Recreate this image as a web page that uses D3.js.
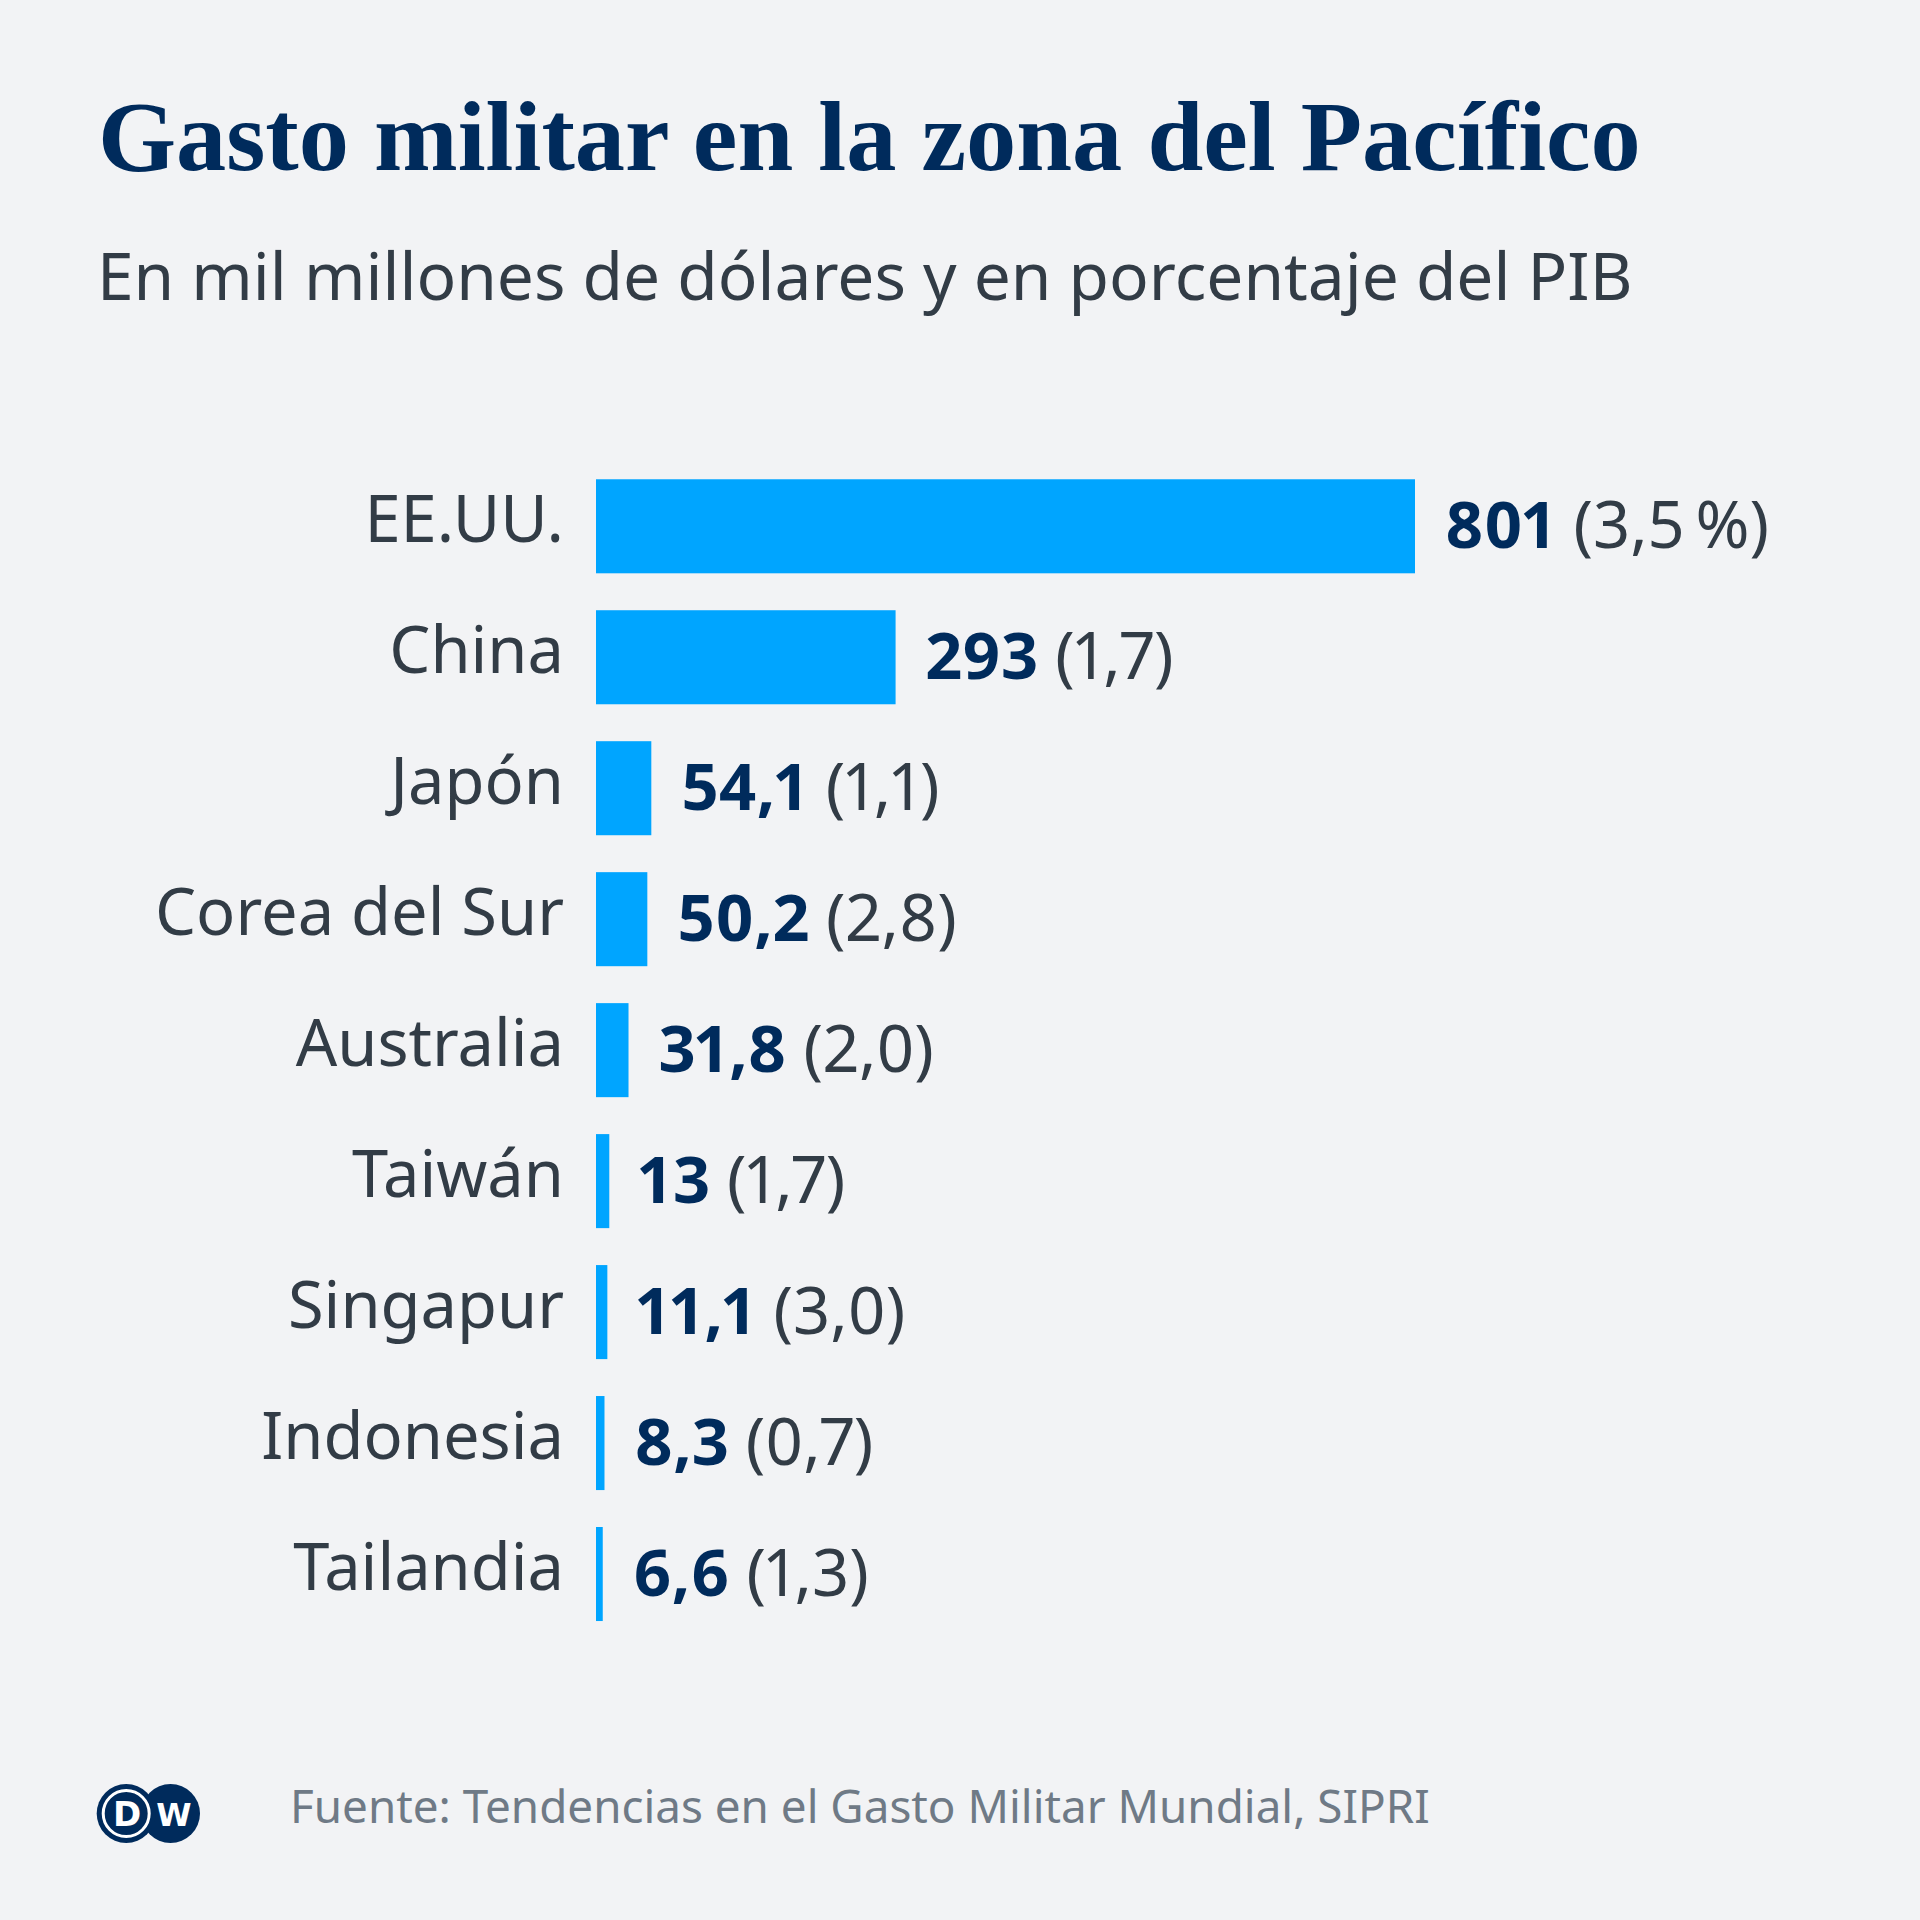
<!DOCTYPE html>
<html>
<head>
<meta charset="utf-8">
<script src="https://cdn.jsdelivr.net/npm/d3@7"></script>
<style>
  html, body { margin: 0; padding: 0; background: #f2f3f5; }
  svg { display: block; }
</style>
</head>
<body>
<script>
const categories = ["EE.UU.", "China", "Japón", "Corea del Sur", "Australia", "Taiwán", "Singapur", "Indonesia", "Tailandia"];
const spending = [801, 293, 54.1, 50.2, 31.8, 13, 11.1, 8.3, 6.6];
const spendingLabels = ["801", "293", "54,1", "50,2", "31,8", "13", "11,1", "8,3", "6,6"];
const gdpLabels = ["(3,5\u202F%)", "(1,7)", "(1,1)", "(2,8)", "(2,0)", "(1,7)", "(3,0)", "(0,7)", "(1,3)"];

const titleText = "Gasto militar en la zona del Pacífico";
const subtitleText = "En mil millones de dólares y en porcentaje del PIB";
const sourceText = "Fuente: Tendencias en el Gasto Militar Mundial, SIPRI";

const W = 1920, H = 1920;
const navy = "#002b5c", slate = "#323c46", barColor = "#00a5ff", grey = "#6f7a86";

const svg = d3.select("body").append("svg").attr("width", W).attr("height", H);
svg.append("rect").attr("width", W).attr("height", H).attr("fill", "#f2f3f5");

// Title
const title = svg.append("text")
  .attr("x", 98).attr("y", 170)
  .attr("font-family", "Liberation Serif, serif")
  .attr("font-weight", "bold")
  .attr("font-size", 92)
  .attr("fill", navy)
  .text(titleText);
const tw = title.node().getComputedTextLength();
title.attr("font-size", 92 * 1543 / tw);

// Subtitle
svg.append("text")
  .attr("x", 97).attr("y", 300)
  .attr("font-family", "Noto Sans, sans-serif")
  .attr("font-size", 65.8)
  .attr("fill", slate)
  .text(subtitleText);

// Scales
const x = d3.scaleLinear().domain([0, 801]).range([596, 1415]);
const y = d3.scaleBand().domain(categories).range([479.3 - 18.5, 1621 + 18.5]).paddingInner(0.282).paddingOuter(0.141);

const data = categories.map((c, i) => ({c, v: spending[i], vl: spendingLabels[i], g: gdpLabels[i]}));

svg.append("g").selectAll("rect").data(data).join("rect")
  .attr("x", x(0))
  .attr("y", d => y(d.c))
  .attr("width", d => Math.max(0, x(d.v) - x(0)))
  .attr("height", y.bandwidth())
  .attr("fill", barColor);

// Category labels
svg.append("g").selectAll("text").data(data).join("text")
  .attr("x", 564)
  .attr("y", d => y(d.c) + y.bandwidth() / 2 + 15.5)
  .attr("text-anchor", "end")
  .attr("font-family", "Noto Sans, sans-serif")
  .attr("font-size", 65)
  .attr("fill", slate)
  .text(d => d.c);

// Value labels
const vl = svg.append("g").selectAll("text").data(data).join("text")
  .attr("x", d => x(d.v) + 30)
  .attr("y", d => y(d.c) + y.bandwidth() / 2 + 22)
  .attr("font-family", "Noto Sans, sans-serif")
  .attr("font-size", 65)
  .style("font-variant-numeric", "proportional-nums");
vl.append("tspan").attr("font-weight", "bold").attr("fill", navy).text(d => d.vl);
vl.append("tspan").attr("fill", slate).text(d => " " + d.g);

// DW logo
const logo = svg.append("g");
logo.append("circle").attr("cx", 170.5).attr("cy", 1813.5).attr("r", 29.5).attr("fill", navy);
logo.append("circle").attr("cx", 126.2).attr("cy", 1813.5).attr("r", 29.5).attr("fill", navy);
logo.append("circle").attr("cx", 126.2).attr("cy", 1813.5).attr("r", 23).attr("fill", "none").attr("stroke", "#ffffff").attr("stroke-width", 3);
logo.append("text").attr("x", 127).attr("y", 1826).attr("text-anchor", "middle")
  .attr("font-family", "DejaVu Sans, sans-serif").attr("font-weight", "bold").attr("font-size", 34).attr("fill", "#ffffff").text("D");
logo.append("text").attr("x", 174).attr("y", 1826).attr("text-anchor", "middle")
  .attr("font-family", "DejaVu Sans, sans-serif").attr("font-weight", "bold").attr("font-size", 32).attr("fill", "#ffffff").text("W");

// Source
svg.append("text")
  .attr("x", 290).attr("y", 1823)
  .attr("font-family", "Noto Sans, sans-serif")
  .attr("font-size", 45.8)
  .attr("fill", grey)
  .text(sourceText);
</script>
</body>
</html>
